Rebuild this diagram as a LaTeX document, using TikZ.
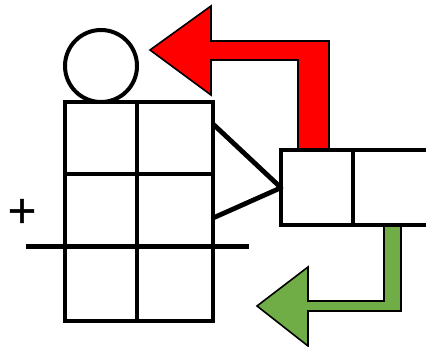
\documentclass[tikz,border=0pt]{standalone}
\usepackage{fontspec}
\setmainfont{DejaVu Sans}
\newfontfamily\plusfont[FakeBold=1.5]{DejaVu Sans}
\definecolor{arrowgreen}{HTML}{70AD47}
\tikzset{
  heavy/.style={draw=black,line width=4pt,line join=miter},
  outlined/.style={draw=black,line width=1.6pt,line join=miter},
  plainbox/.style={draw=black,line width=4pt,fill=white,minimum width=#1,minimum height=72pt,inner sep=0pt,outer sep=0pt,anchor=north west},
}
\begin{document}
\begin{tikzpicture}[x=1pt,y=-1pt]
\useasboundingbox (0,0) rectangle (426,347);
% arrows first, boxes over their ends
\draw[outlined,fill=red] (150,50) -- (211,6) -- (211,41) -- (329,41) -- (329,152) -- (298,152) -- (298,60) -- (211,60) -- (211,95) -- cycle;
\draw[outlined,fill=arrowgreen] (257,306) -- (308,267) -- (308,301) -- (384,301) -- (384,224) -- (401,224) -- (401,311) -- (308,311) -- (308,346) -- cycle;
% head
\node[heavy,circle,minimum size=72pt,inner sep=0pt,outer sep=0pt] (head) at (101,66) {};
% body grid
\node[plainbox=72pt] (c11) at (65,102) {};
\node[plainbox=76pt] (c12) at (137,102) {};
\node[plainbox=72pt] (c21) at (65,174) {};
\node[plainbox=76pt] (c22) at (137,174) {};
\node[plainbox=72pt,minimum height=75pt] (c31) at (65,246) {};
\node[plainbox=76pt,minimum height=75pt] (c32) at (137,246) {};
% right boxes
\node[plainbox=72pt,minimum height=75.5pt] (r1) at (281,150) {};
\node[plainbox=80pt,minimum height=75.5pt] (r2) at (353,150) {};
% triangle
\coordinate (tipT) at (213,124);
\coordinate (tipB) at (213,218);
\draw[black,line width=4.8pt,line join=round] (tipT) -- (r1.west) -- (tipB);
% rule
\coordinate (ruleL) at (26,246.5);
\coordinate (ruleR) at (249,246.5);
\draw[black,line width=5pt] (ruleL) -- (ruleR);
% plus
\node[inner sep=0pt,font=\fontsize{38}{38}\plusfont] (plus) at (22,211) {+};
\end{tikzpicture}
\end{document}
